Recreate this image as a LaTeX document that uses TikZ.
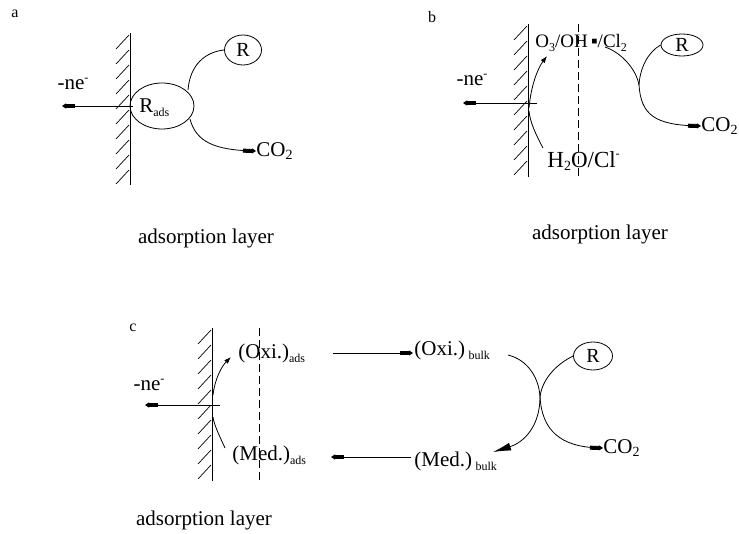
\documentclass[tikz,border=0pt]{standalone}
\usepackage{fontspec}
\setmainfont{Liberation Serif}
\usetikzlibrary{arrows.meta,shapes.geometric}
\newcommand\lsub[1]{\raisebox{-0.35ex}{\fontsize{14}{14}\selectfont #1}}
\newcommand\ssub[1]{\raisebox{-0.45ex}{\fontsize{12}{12}\selectfont #1}}
\newcommand\ssup[1]{\raisebox{0.9ex}{\fontsize{12}{12}\selectfont #1}}
\begin{document}
\begin{tikzpicture}[x=1pt,y=-1pt,line width=0.8pt,
  txt/.style={font=\fontsize{21}{23}\selectfont,inner sep=0pt},
  bigtxt/.style={font=\fontsize{23}{25}\selectfont,inner sep=0pt},
  smalltxt/.style={font=\fontsize{19}{21}\selectfont,inner sep=0pt},
  tag/.style={font=\fontsize{16}{18}\selectfont,inner sep=0pt},
  rbox/.style={draw,ellipse,inner sep=0pt,font=\fontsize{20}{22}\selectfont},
  wallline/.style={line width=0.9pt},
  hatch/.style={line width=0.7pt},
  layer/.style={dashed,dash pattern=on 8pt off 4pt,line width=0.7pt},
  blk/.style={-{Rectangle[length=9pt,width=4pt]Triangle[length=4pt,width=5pt]}},
  tip/.style={-{Latex[length=7pt,width=5pt]}},
  bigtip/.style={-{Latex[length=18pt,width=8pt]}}
]
\useasboundingbox (0,0) rectangle (739,534);

% ---------------- panel a ----------------
\node[tag] (la) at (15,14) {a};
\draw[wallline] (130,33) -- (130,185);
\foreach \y in {35,50,...,170} \draw[hatch] (116,\y+14) -- (129,\y);
\node[draw,ellipse,minimum width=64pt,minimum height=46pt,inner sep=0pt] (Rads) at (162,106) {};
\node[txt,anchor=west] (Radst) at (139,108) {R\ssub{ads}};
\node[rbox,minimum width=37pt,minimum height=30pt] (Ra) at (243,50) {R};
\node[txt] (nea) at (73,84) {-ne\ssup{-}};
\node[txt,anchor=west] (co2a) at (256,151) {CO\lsub{2}};
\node[txt] (adsa) at (206,238) {adsorption layer};
\coordinate (wa) at (133,106);
\coordinate (ea) at (62,106);
\coordinate (a1) at (188,90);
\coordinate (a2) at (190,119);
\draw[blk] (wa) -- (ea);
\draw (a1) .. controls (190,65) and (205,52) .. (Ra.west);
\draw[blk] (a2) .. controls (196,142) and (215,150) .. (co2a.west);

% ---------------- panel b ----------------
\node[tag] (lb) at (432,17) {b};
\draw[wallline] (528,24) -- (528,177);
\foreach \y in {26,41,...,161} \draw[hatch] (514,\y+14) -- (527,\y);
\draw[layer] (578,24) -- (578,177);
\node[txt] (neb) at (472,80) {-ne\ssup{-}};
\node[smalltxt,anchor=west] (oxb) at (535,43) {O\ssub{3}/OH\,▪/Cl\ssub{2}};
\node[bigtxt,anchor=west] (h2o) at (547,161) {H\lsub{2}O/Cl\ssup{-}};
\node[rbox,minimum width=42pt,minimum height=22pt] (Rb) at (682,45) {R};
\node[txt,anchor=west] (co2b) at (701,126) {CO\lsub{2}};
\node[txt] (adsb) at (600,234) {adsorption layer};
\coordinate (wb) at (537,103);
\coordinate (eb) at (463,103);
\coordinate (b0) at (529,108);
\coordinate (b1) at (547,56);
\coordinate (b2) at (543,148);
\coordinate (b3) at (529,111);
\coordinate (b4) at (605,47);
\coordinate (jb) at (639,85);
\draw[blk] (wb) -- (eb);
\draw[tip] (b0) .. controls (531,85) and (538,68) .. (b1);
\draw (b2) .. controls (536,135) and (530,122) .. (b3);
\draw (b4) .. controls (620,52) and (636,68) .. (jb);
\draw (Rb.west) .. controls (648,52) and (640,68) .. (jb);
\draw[blk] (jb) .. controls (641,115) and (655,125) .. (co2b.west);

% ---------------- panel c ----------------
\node[tag] (lc) at (133,328) {c};
\draw[wallline] (212,328) -- (212,481);
\foreach \y in {330,345,...,465} \draw[hatch] (198,\y+14) -- (211,\y);
\draw[layer] (259,328) -- (259,482);
\node[txt] (nec) at (149,385) {-ne\ssup{-}};
\node[txt,anchor=west] (oxads) at (238,353) {(Oxi.)\ssub{ads}};
\node[txt,anchor=west] (medads) at (232,455) {(Med.)\ssub{ads}};
\node[txt,anchor=west] (oxbulk) at (414,350) {(Oxi.)\,\ssub{bulk}};
\node[txt,anchor=west] (medbulk) at (414,461) {(Med.)\,\ssub{bulk}};
\node[rbox,minimum width=39pt,minimum height=28pt] (Rc) at (593,356) {R};
\node[txt,anchor=west] (co2c) at (603,448) {CO\lsub{2}};
\node[txt] (adsc) at (204,520) {adsorption layer};
\coordinate (wc) at (220,405);
\coordinate (ec) at (145,405);
\coordinate (c0) at (213,395);
\coordinate (c1) at (231,357);
\coordinate (c2) at (225,448);
\coordinate (c3) at (213,417);
\coordinate (c4) at (508,355);
\coordinate (jc) at (540,397);
\coordinate (c5) at (493,452);
\coordinate (c6) at (333,353);
\coordinate (c6e) at (413,353);
\coordinate (c7) at (411,457);
\coordinate (c8) at (331,457);
\draw[blk] (wc) -- (ec);
\draw[tip] (c0) .. controls (215,378) and (222,366) .. (c1);
\draw (c2) .. controls (220,437) and (214,425) .. (c3);
\draw[blk] (c6) -- (c6e);
\draw[blk] (c7) -- (c8);
\draw (c4) .. controls (528,360) and (539,378) .. (jc);
\draw (Rc.west) .. controls (555,365) and (542,380) .. (jc);
\draw[bigtip] (jc) .. controls (540,425) and (525,442) .. (c5);
\draw[blk] (jc) .. controls (542,430) and (560,447) .. (co2c.west);
\end{tikzpicture}
\end{document}
